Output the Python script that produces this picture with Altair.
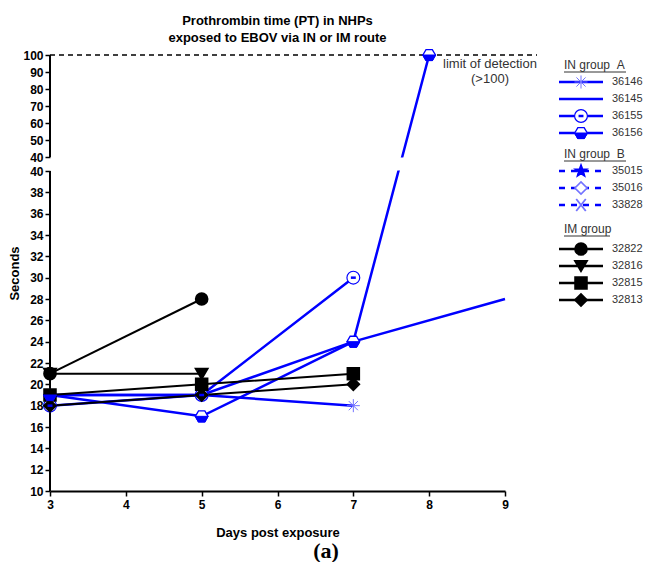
import math
import altair as alt
import pandas as pd

# ---------------- data ----------------
animals = ["36146", "36145", "36155", "36156", "35015", "35016", "33828",
           "32822", "32816", "32815", "32813"]
groups = ["IN group\u00a0\u00a0A"] * 4 + ["IN group\u00a0\u00a0B"] * 3 + ["IM group"] * 4
group_names = ["IN group\u00a0\u00a0A", "IN group\u00a0\u00a0B", "IM group"]

days_36146 = [3, 5, 7]
pt_36146 = [19, 19, 18]
days_36145 = [3, 5, 7, 9]
pt_36145 = [19, 19, 24, 28]
days_36155 = [3, 5, 7]
pt_36155 = [18, 19, 30]
days_36156 = [3, 5, 7, 8]
pt_36156 = [19, 17, 24, 100]
days_32822 = [3, 5]
pt_32822 = [21, 28]
days_32816 = [3, 5]
pt_32816 = [21, 21]
days_32815 = [3, 5, 7]
pt_32815 = [19, 20, 21]
days_32813 = [3, 5, 7]
pt_32813 = [18, 19, 20]

x_ticks = [3, 4, 5, 6, 7, 8, 9]
y_ticks_low = list(range(10, 41, 2))
y_ticks_high = list(range(40, 101, 10))
limit_value = 100

title_lines = ["Prothrombin time (PT) in NHPs", "exposed to EBOV via IN or IM route"]
limit_text = ["limit of detection", "(>100)"]
panel_label = "(a)"

# ---------------- broken y axis mapping ----------------
W, H = 455, 436
PXU = 320 / 30            # px per second in lower segment
GAP = 14 / PXU            # gap between the two segments
K = (102 / 60) / PXU      # compression of the upper segment
LOW_TOP = 40


def disp(v):
    return v if v <= LOW_TOP else LOW_TOP + GAP + (v - LOW_TOP) * K


def disp_upper(v):
    return LOW_TOP + GAP + (v - LOW_TOP) * K


D_TOP = disp_upper(100)
XPU = W / 6


def px_x(px):
    return 3 + (px - 50) / XPU


def py_d(py):
    return D_TOP - (py - 56) / PXU


BLUE = "#0000ff"
LBLUE = "#7373ff"
BLACK = "#000000"
FONT = "Liberation Sans"

series = {
    "36146": (days_36146, pt_36146), "36145": (days_36145, pt_36145),
    "36155": (days_36155, pt_36155), "36156": (days_36156, pt_36156),
    "32822": (days_32822, pt_32822), "32816": (days_32816, pt_32816),
    "32815": (days_32815, pt_32815), "32813": (days_32813, pt_32813),
}
rows = []
for a, (ds, vs) in series.items():
    for dday, v in zip(ds, vs):
        rows.append({"animal": a, "day": dday, "value": v, "d": disp(v),
                     "grp": groups[animals.index(a)]})
df = pd.DataFrame(rows)
blue_set = animals[:7]
df_blue = df[df.animal.isin(blue_set)]
df_black = df[~df.animal.isin(blue_set)]
df_pts = df[df.animal != "36145"]

# ---------------- marker styles ----------------
ASTER = "M0,-1L0,1M-1,0L1,0M-0.7,-0.7L0.7,0.7M-0.7,0.7L0.7,-0.7"
HEX = "M-1,0L-0.5,-0.866L0.5,-0.866L1,0L0.5,0.866L-0.5,0.866Z"
HALF = "M-1,0L1,0L0.5,0.866L-0.5,0.866Z"
XCROSS = "M-0.8,-1L0.8,1M-0.8,1L0.8,-1"
BAR = "M-0.45,0L0.45,0"


def star_path(r_in=0.42):
    pts = []
    for k in range(10):
        ang = math.radians(-90 + 36 * k)
        r = 1 if k % 2 == 0 else r_in
        pts.append(f"{r * math.cos(ang):.3f},{r * math.sin(ang):.3f}")
    return "M" + "L".join(pts) + "Z"


mk_animals = ["36146", "36155", "36156", "35015", "35016", "33828",
              "32822", "32816", "32815", "32813"]
mk_shapes = [ASTER, "circle", HEX, star_path(), "diamond", XCROSS,
             "circle", "triangle-down", "square", "diamond"]
mk_fill = ["transparent", "white", "white", BLUE, "white", "transparent",
           BLACK, BLACK, BLACK, BLACK]
mk_stroke = [LBLUE, BLUE, BLUE, BLUE, LBLUE, LBLUE, BLACK, BLACK, BLACK, BLACK]
mk_size = [170, 120, 170, 220, 150, 140, 200, 160, 180, 150]
mk_sw = [1, 2.5, 2, 1, 1, 1, 1, 1, 1, 1]

line_color = alt.Color("animal:N", scale=alt.Scale(
    domain=animals, range=[BLUE] * 7 + [BLACK] * 4), legend=None)


def point_enc(chart, xenc):
    return chart.encode(
        x=xenc, y="d:Q",
        shape=alt.Shape("animal:N", scale=alt.Scale(domain=mk_animals, range=mk_shapes), legend=None),
        fill=alt.Fill("animal:N", scale=alt.Scale(domain=mk_animals, range=mk_fill), legend=None),
        stroke=alt.Stroke("animal:N", scale=alt.Scale(domain=mk_animals, range=mk_stroke), legend=None),
        size=alt.Size("animal:N", scale=alt.Scale(domain=mk_animals, range=mk_size), legend=None),
        strokeWidth=alt.StrokeWidth("animal:N", scale=alt.Scale(domain=mk_animals, range=mk_sw), legend=None),
    )


y_vals = [disp(v) for v in y_ticks_low] + [disp_upper(v) for v in y_ticks_high]
label_expr = (f"datum.value > {LOW_TOP + 0.5} ? format((datum.value - {LOW_TOP + GAP}) / {K} + {LOW_TOP}, '.0f')"
              f" : format(datum.value, '.0f')")

x_enc = alt.X("day:Q", scale=alt.Scale(domain=[3, 9], nice=False, zero=False),
              axis=alt.Axis(values=x_ticks, tickCount=20, title="Days post exposure", grid=False,
                            labelFlush=False, format="d", labelPadding=3, titlePadding=16,
                            domainColor=BLACK, domainWidth=2, tickColor=BLACK,
                            tickWidth=1.5, tickSize=5))
y_enc = alt.Y("d:Q", scale=alt.Scale(domain=[10, D_TOP], nice=False, zero=False),
              axis=alt.Axis(values=y_vals, tickCount=80, labelExpr=label_expr, title="Seconds",
                            grid=False, domain=False, labelOverlap=False, labelFlush=False,
                            labelPadding=2, titlePadding=1, tickColor=BLACK,
                            tickWidth=1.5, tickSize=5))

one = pd.DataFrame({"k": [0]})

blue_lines = alt.Chart(df_blue).mark_line(strokeWidth=2.5).encode(
    x=x_enc, y=y_enc, color=line_color, detail="animal:N")
black_lines = alt.Chart(df_black).mark_line(strokeWidth=2).encode(
    x="day:Q", y="d:Q", color=line_color, detail="animal:N")

band = alt.Chart(one).mark_rect(color="white").encode(
    x=alt.datum(3.05), x2=alt.datum(9), y=alt.datum(LOW_TOP + 0.05), y2=alt.datum(LOW_TOP + GAP - 0.05))

axis_low = alt.Chart(one).mark_rule(color=BLACK, strokeWidth=2).encode(
    x=alt.datum(3), y=alt.datum(10), y2=alt.datum(LOW_TOP))
axis_high = alt.Chart(one).mark_rule(color=BLACK, strokeWidth=2).encode(
    x=alt.datum(3), y=alt.datum(disp_upper(LOW_TOP)), y2=alt.datum(D_TOP))

limit_rule = alt.Chart(one).mark_rule(color=BLACK, strokeWidth=1.5, strokeDash=[5, 4]).encode(
    x=alt.datum(3), x2=alt.datum(px_x(537)), y=alt.datum(disp_upper(limit_value)))

limit_lbl = alt.Chart(one).mark_text(
    text=limit_text, font=FONT, fontSize=13, color="#333333", align="center",
    baseline="top", dy=3, lineHeight=15).encode(
    x=alt.datum(px_x(490)), y=alt.datum(disp_upper(limit_value)))

pts = point_enc(alt.Chart(df_pts).mark_point(opacity=1, fillOpacity=1), "day:Q")
ov_bar = alt.Chart(df_pts[df_pts.animal == "36155"]).mark_point(
    shape=BAR, stroke=BLUE, strokeWidth=2.5, size=120, opacity=1).encode(x="day:Q", y="d:Q")
ov_half = alt.Chart(df_pts[df_pts.animal == "36156"]).mark_point(
    shape=HALF, fill=BLUE, stroke=BLUE, strokeWidth=1, size=170, filled=True, opacity=1).encode(
    x="day:Q", y="d:Q")

# ---------------- manual legend ----------------
gap_before_header = {group_names[1]: 21, group_names[2]: 24}
header_to_item = {group_names[0]: 17, group_names[1]: 17, group_names[2]: 20}
leg_rows = []
py = 66
prev_grp = None
for a, g in zip(animals, groups):
    if g != prev_grp:
        if prev_grp is not None:
            py += gap_before_header[g]
        leg_rows.append({"kind": "header", "animal": "", "grp": g, "d": py_d(py)})
        py += header_to_item[g]
        prev_grp = g
    else:
        py += 17
    leg_rows.append({"kind": "item", "animal": a, "grp": g, "d": py_d(py)})
leg = pd.DataFrame(leg_rows)
leg_items = leg[leg.kind == "item"]
leg_hdr = leg[leg.kind == "header"].copy()
hdr_width = {group_names[0]: 62, group_names[1]: 62, group_names[2]: 46}
leg_hdr["d_ul"] = leg_hdr["d"] - 7 / PXU
leg_hdr["x_end"] = [px_x(564 + hdr_width[g]) for g in leg_hdr.grp]
leg_hdr["x_start"] = px_x(564)

leg_lines = alt.Chart(leg_items).mark_rule(strokeWidth=2.5).encode(
    x=alt.datum(px_x(559)), x2=alt.datum(px_x(603)), y="d:Q", color=line_color,
    strokeDash=alt.StrokeDash("grp:N", scale=alt.Scale(
        domain=group_names, range=[[1, 0], [6, 6], [1, 0]]), legend=None))
leg_pts_df = leg_items[leg_items.animal != "36145"]
leg_pts = point_enc(alt.Chart(leg_pts_df).mark_point(opacity=1, fillOpacity=1), alt.datum(px_x(581)))
leg_bar = alt.Chart(leg_items[leg_items.animal == "36155"]).mark_point(
    shape=BAR, stroke=BLUE, strokeWidth=2.5, size=120, opacity=1).encode(
    x=alt.datum(px_x(581)), y="d:Q")
leg_half = alt.Chart(leg_items[leg_items.animal == "36156"]).mark_point(
    shape=HALF, fill=BLUE, stroke=BLUE, strokeWidth=1, size=170, filled=True, opacity=1).encode(
    x=alt.datum(px_x(581)), y="d:Q")
leg_txt = alt.Chart(leg_items).mark_text(
    font=FONT, fontSize=11, color="#333333", align="left", baseline="middle").encode(
    x=alt.datum(px_x(612)), y="d:Q", text="animal:N")
hdr_txt = alt.Chart(leg_hdr).mark_text(
    font=FONT, fontSize=12, color="#333333", align="left", baseline="middle").encode(
    x=alt.datum(px_x(564)), y="d:Q", text="grp:N")
hdr_ul = alt.Chart(leg_hdr).mark_rule(color="#333333", strokeWidth=1).encode(
    x="x_start:Q", x2="x_end:Q", y="d_ul:Q")

panel = alt.Chart(one).mark_text(
    text=panel_label, font="Liberation Serif", fontSize=22, fontWeight="bold",
    color=BLACK, align="center", baseline="middle").encode(
    x=alt.datum(px_x(326)), y=alt.datum(10 - (552 - 492) / PXU))

chart = alt.layer(
    blue_lines, black_lines, band, axis_low, axis_high, limit_rule, pts, ov_bar, ov_half,
    limit_lbl, leg_lines, leg_pts, leg_bar, leg_half, leg_txt, hdr_txt, hdr_ul, panel,
).properties(
    width=W, height=H,
    title=alt.Title(title_lines, font=FONT, fontSize=13, fontWeight="bold", color=BLACK,
                    anchor="middle", offset=2, lineHeight=17),
    padding={"left": 0, "top": 6, "right": 0, "bottom": 0},
).configure_view(stroke=None).configure_axis(
    labelFont=FONT, labelFontSize=12, labelFontWeight="bold", labelColor=BLACK,
    titleFont=FONT, titleFontSize=13, titleFontWeight="bold", titleColor=BLACK,
)

chart.save("out.html", embed_options={"renderer": "svg", "actions": False})
